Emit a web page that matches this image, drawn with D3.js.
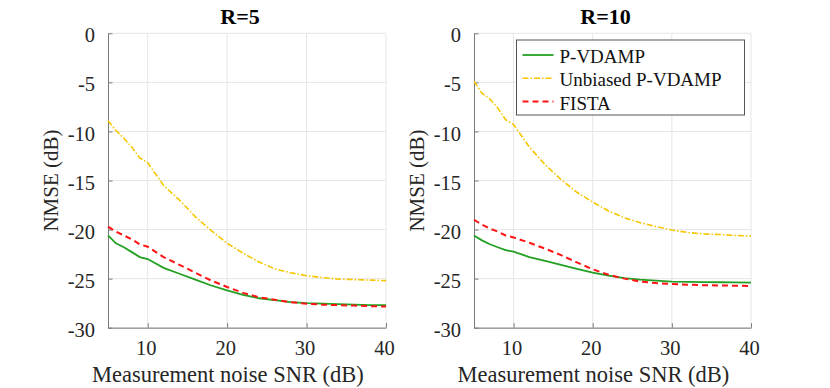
<!DOCTYPE html>
<html>
<head>
  <meta charset="utf-8"/>
  <style>
    body { margin: 0; background: #fff; }
    svg { font-family: "Liberation Serif", "Times New Roman", serif; }
  </style>
</head>
<body>
  <div id="chart"></div>
  <script src="https://d3js.org/d3.v7.min.js"></script>
  <script>
    // data
    let snr = [5, 6, 7, 8, 9, 10, 12, 14, 16, 18, 20, 22, 24, 26, 28, 30, 32, 34, 36, 38, 40];
    let titles = ['R=5', 'R=10'];
    let seriesNames = ['P-VDAMP', 'Unbiased P-VDAMP', 'FISTA'];
    let xTicks = [10, 20, 30, 40];
    let yTicks = [0, -5, -10, -15, -20, -25, -30];

    let r5_pvdamp = [-20.6, -21.4, -21.8, -22.3, -22.8, -23.0, -23.9, -24.5, -25.1, -25.7, -26.2, -26.65, -27.0, -27.2, -27.4, -27.5, -27.55, -27.6, -27.65, -27.7, -27.7];
    let r5_unbiased = [-8.9, -9.9, -10.7, -11.6, -12.7, -13.2, -15.5, -17.0, -18.7, -20.1, -21.4, -22.4, -23.3, -24.0, -24.4, -24.7, -24.9, -25.05, -25.1, -25.15, -25.2];
    let r5_fista = [-19.7, -20.2, -20.6, -21.0, -21.5, -21.75, -22.8, -23.6, -24.4, -25.2, -25.85, -26.45, -26.9, -27.15, -27.4, -27.55, -27.65, -27.7, -27.75, -27.8, -27.85];

    let r10_pvdamp = [-20.6, -21.1, -21.5, -21.8, -22.1, -22.25, -22.8, -23.2, -23.6, -24.0, -24.4, -24.7, -24.95, -25.1, -25.2, -25.3, -25.33, -25.35, -25.37, -25.38, -25.4];
    let r10_unbiased = [-4.9, -6.1, -6.7, -7.6, -8.8, -9.3, -11.6, -13.4, -14.9, -16.2, -17.2, -18.1, -18.8, -19.3, -19.7, -20.05, -20.3, -20.45, -20.5, -20.6, -20.65];
    let r10_fista = [-19.0, -19.5, -19.9, -20.2, -20.6, -20.8, -21.35, -21.95, -22.6, -23.35, -24.05, -24.6, -25.0, -25.3, -25.45, -25.55, -25.62, -25.67, -25.7, -25.72, -25.75];

    let panelData = [
      [r5_pvdamp, r5_unbiased, r5_fista],
      [r10_pvdamp, r10_unbiased, r10_fista]
    ];

    let colors = ['#23a023', '#f7c600', '#ff1414'];
    let dashes = [null, '6,2,1.5,2', '6,4'];
    let widths = [1.8, 1.6, 2];

    let width = 830, height = 388;
    let panels = [{left: 108, right: 386}, {left: 474, right: 751}];
    let plotTop = 33.3, plotBottom = 327.7;

    let svg = d3.select('#chart')
        .append('svg')
        .attr('width', width)
        .attr('height', height);

    let y = d3.scaleLinear().domain([-30, 0]).range([plotBottom, plotTop]);

    panels.forEach(function (p, pi) {
      let x = d3.scaleLinear().domain([5, 40]).range([p.left, p.right]);
      let g = svg.append('g');

      // grid
      g.selectAll('.vgrid').data(xTicks).enter().append('line')
          .attr('x1', d => x(d)).attr('x2', d => x(d))
          .attr('y1', plotTop).attr('y2', plotBottom)
          .attr('stroke', '#e6e6e6').attr('stroke-width', 1);
      g.selectAll('.hgrid').data(yTicks).enter().append('line')
          .attr('x1', p.left).attr('x2', p.right)
          .attr('y1', d => y(d)).attr('y2', d => y(d))
          .attr('stroke', '#e6e6e6').attr('stroke-width', 1);

      // axes, ticks pointing inward, plain hyphen for minus
      let xAxis = d3.axisBottom(x).tickValues(xTicks).tickSizeInner(-4.5).tickSizeOuter(0)
          .tickFormat(d => String(d));
      let yAxis = d3.axisLeft(y).tickValues(yTicks).tickSizeInner(-4.5).tickSizeOuter(0).tickPadding(13)
          .tickFormat(d => String(d));

      let gx = g.append('g').attr('transform', 'translate(0,' + plotBottom + ')').call(xAxis);
      let gy = g.append('g').attr('transform', 'translate(' + p.left + ',0)').call(yAxis);
      [gx, gy].forEach(function (ax) {
        ax.attr('font-family', null);
        ax.select('.domain').attr('stroke', '#7a7a7a').attr('stroke-width', 1);
        ax.selectAll('.tick line').attr('stroke', '#7a7a7a');
        ax.selectAll('.tick text')
            .attr('fill', '#262626')
            .style('font-size', '20.5px')
            .style('font-family', '"Liberation Serif", serif');
      });
      gx.selectAll('.tick text').attr('x', -2).attr('y', 27.5).attr('dy', 0);
      gy.selectAll('.tick text').attr('dy', '0.42em');

      // lines
      let line = d3.line()
          .x((d, i) => x(snr[i]))
          .y(d => y(d));

      panelData[pi].forEach(function (vals, si) {
        g.append('path')
            .datum(vals)
            .attr('fill', 'none')
            .attr('stroke', colors[si])
            .attr('stroke-width', widths[si])
            .attr('stroke-dasharray', dashes[si])
            .attr('d', line);
      });

      // labels
      let cx = (p.left + p.right) / 2;
      g.append('text')
          .attr('x', cx - 7).attr('y', 24)
          .attr('text-anchor', 'middle')
          .style('font-size', '22px').style('font-weight', 'bold')
          .text(titles[pi]);
      g.append('text')
          .attr('x', cx - 155).attr('y', 382)
          .style('font-size', '22.5px')
          .attr('fill', '#262626')
          .text('Measurement noise SNR (dB)');
      g.append('text')
          .attr('transform', 'translate(' + (p.left - 50) + ',' + ((plotTop + plotBottom) / 2) + ') rotate(-90)')
          .attr('text-anchor', 'middle')
          .style('font-size', '21px')
          .attr('fill', '#262626')
          .text('NMSE (dB)');
    });

    // legend in the right panel
    let lg = svg.append('g').attr('transform', 'translate(516.5,40)');
    lg.append('rect')
        .attr('width', 228).attr('height', 75)
        .attr('fill', '#fff').attr('stroke', '#555').attr('stroke-width', 1);
    seriesNames.forEach(function (name, i) {
      let ly = 15 + i * 23.3;
      lg.append('line')
          .attr('x1', 6).attr('x2', 37)
          .attr('y1', ly).attr('y2', ly)
          .attr('stroke', colors[i])
          .attr('stroke-width', widths[i])
          .attr('stroke-dasharray', dashes[i]);
      lg.append('text')
          .attr('x', 43).attr('y', ly + 8)
          .style('font-size', '19px')
          .attr('fill', '#111')
          .text(name);
    });
  </script>
</body>
</html>
